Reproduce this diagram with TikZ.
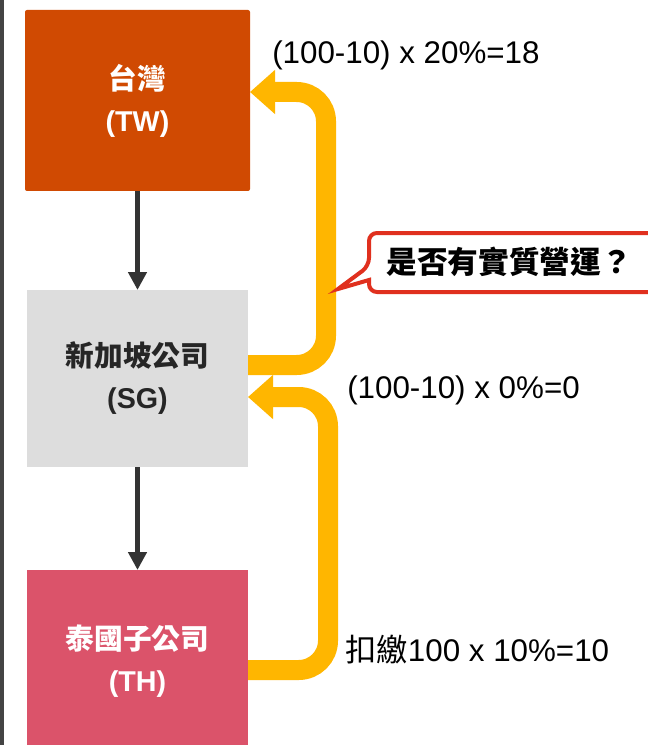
\documentclass[tikz,border=0pt]{standalone}
\usepackage{fontspec}
\setmainfont{Liberation Sans}
\newfontfamily\cjk{Noto Sans CJK TC}
\usetikzlibrary{arrows.meta,calc}
\definecolor{twc}{HTML}{D04A02}
\definecolor{sgc}{HTML}{DDDDDD}
\definecolor{thc}{HTML}{DB536A}
\definecolor{yelc}{HTML}{FFB600}
\definecolor{darkc}{HTML}{333333}
\definecolor{barc}{HTML}{444444}
\definecolor{redc}{HTML}{E0301E}
\begin{document}
\begin{tikzpicture}[x=0.75pt,y=-0.75pt,
  entity/.style={inner sep=0pt,outer sep=0pt,align=center,font=\fontsize{21.5}{31.5}\selectfont},
  downarrow/.style={draw=darkc,line width=3.4pt,-{Triangle[length=13.5pt,width=13.5pt]}},
  flowarrow/.style={draw=yelc,line width=15pt,rounded corners=22pt,-{Triangle[length=18.75pt,width=32pt]}},
  amount/.style={anchor=west,inner sep=0pt,font=\fontsize{23.5}{28}\selectfont}]
\clip (0,0) rectangle (648,745);
\fill[white] (0,0) rectangle (648,745);
\fill[barc] (0,0) rectangle (4,745);
% boxes
\node[entity,fill=twc,rounded corners=1.5pt,minimum width=168.75pt,minimum height=135.75pt,text=white] (tw) at (137.5,100.5)
  {{\cjk\bfseries 台灣}\\ \textbf{(TW)}};
\node[entity,fill=sgc,minimum width=165.75pt,minimum height=132.75pt,text=black!85] (sg) at (137.5,378.5)
  {{\cjk\bfseries 新加坡公司}\\ \textbf{(SG)}};
\node[entity,fill=thc,minimum width=165.75pt,minimum height=136.5pt,text=white] (th) at (137.5,661)
  {{\cjk\bfseries 泰國子公司}\\ \textbf{(TH)}};
% ownership arrows
\draw[downarrow] (tw.south) -- (sg.north);
\draw[downarrow] (sg.south) -- (th.north);
% dividend flow arrows
\draw[flowarrow] ($(sg.east)+(0,-13.5)$) -- (326,365) -- (326,92) -- ($(tw.east)+(0,-8.5)$);
\draw[flowarrow] ($(th.east)+(0,9)$) -- (328,670) -- (328,397) -- ($(sg.east)+(0,18.5)$);
% labels
\node[amount] (lab1) at (272,55) {(100-10) x 20\%=18};
\node[amount] (lab2) at (347,390) {(100-10) x 0\%=0};
\node[amount] (lab3) at (345,650) {{\cjk 扣繳}100 x 10\%=10};
% callout
\filldraw[fill=white,draw=redc,line width=3pt,rounded corners=6pt]
  (700,233) -- (369,233) -- (369,266) [sharp corners] -- (338,289) -- (369,280) [rounded corners=6pt] -- (369,292) -- (700,292);
\node[inner sep=0pt,font=\fontsize{23}{27}\selectfont] (callout) at (509,262) {\cjk\bfseries 是否有實質營運？};
\end{tikzpicture}
\end{document}
